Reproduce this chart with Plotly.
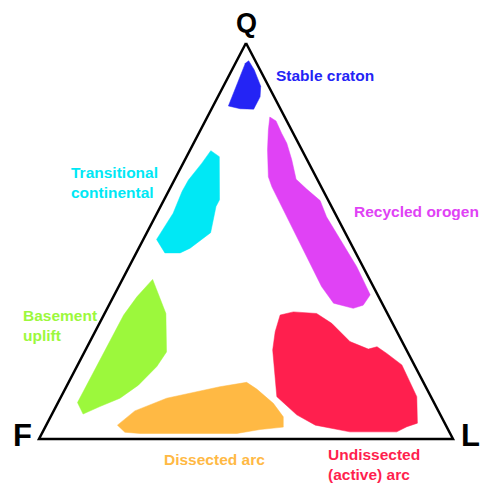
import plotly.graph_objects as go

# QFL ternary fields (Q, F, L in percent)
craton_q = [95.5, 93.2, 89.1, 86.4, 83.3, 83.4, 84.1, 87.3, 91.5, 94.9]
craton_f = [1.6, 1.4, 1.9, 3.4, 6.5, 9.7, 12.2, 9.4, 5.6, 2.7]
craton_l = [2.9, 5.4, 9.0, 10.2, 10.2, 6.9, 3.7, 3.3, 2.9, 2.4]

recycled_q = [81.3, 80.3, 77.2, 74.7, 70.5, 65.6, 63.1, 60.2, 56.1, 50.3, 43.5, 36.4,
              33.8, 33.0, 34.3, 38.5, 42.7, 49.4, 57.8, 63.7, 66.2, 73.0, 78.0]
recycled_f = [3.6, 2.6, 2.8, 2.8, 3.7, 5.1, 3.8, 2.0, 2.5, 2.1, 1.5, 1.8,
              4.8, 7.6, 11.7, 12.5, 12.4, 12.3, 12.1, 11.9, 11.5, 8.3, 5.6]
recycled_l = [15.1, 17.1, 20.0, 22.5, 25.8, 29.3, 33.1, 37.8, 41.4, 47.6, 55.0, 61.8,
              61.4, 59.4, 54.0, 49.0, 44.9, 38.3, 30.1, 24.4, 22.3, 18.7, 16.4]

transitional_q = [72.8, 71.3, 60.4, 58.7, 52.1, 48.2, 47.0, 47.0, 50.4, 57.0, 62.5, 65.4, 69.6]
transitional_f = [22.1, 20.8, 26.2, 27.9, 32.5, 39.4, 42.4, 46.1, 46.4, 39.1, 34.2, 31.2, 25.9]
transitional_l = [5.1, 7.9, 13.4, 13.4, 15.4, 12.4, 10.6, 6.9, 3.2, 3.9, 3.3, 3.4, 4.5]

basement_q = [40.3, 36.8, 31.7, 22.0, 18.3, 13.6, 10.3, 8.2, 6.3, 9.2, 18.3, 25.4, 31.3, 35.9]
basement_f = [52.4, 52.8, 53.5, 58.2, 62.4, 69.2, 75.3, 81.2, 86.2, 86.1, 76.9, 69.7, 63.9, 58.4]
basement_l = [7.3, 10.4, 14.8, 19.8, 19.3, 17.2, 14.4, 10.6, 7.5, 4.7, 4.8, 4.9, 4.8, 5.7]

dissected_q = [3.5, 7.1, 10.3, 11.7, 13.2, 14.3, 12.6, 9.0, 5.6, 3.0, 2.4, 1.4, 1.4, 1.4, 1.7]
dissected_f = [79.3, 73.3, 64.0, 56.9, 49.7, 42.7, 41.1, 38.9, 38.2, 39.5, 45.4, 51.5, 60.4, 74.9, 78.4]
dissected_l = [17.2, 19.6, 25.7, 31.4, 37.1, 43.0, 46.3, 52.1, 56.2, 57.5, 52.2, 47.1, 38.2, 23.7, 19.9]

undissected_q = [31.3, 32.1, 31.7, 29.2, 24.6, 22.7, 23.3, 21.6, 18.7, 10.7, 4.0, 3.1,
                 1.8, 1.8, 3.5, 6.1, 10.7, 14.9, 22.5, 27.1]
undissected_f = [26.1, 22.5, 17.1, 14.7, 12.6, 9.1, 6.7, 5.2, 3.0, 3.4, 6.6, 9.6,
                 12.7, 24.0, 31.5, 34.7, 37.2, 35.5, 32.3, 29.4]
undissected_l = [42.6, 45.4, 51.2, 56.1, 62.8, 68.2, 70.0, 73.2, 78.3, 85.9, 89.4, 87.3,
                 85.5, 74.2, 65.0, 59.2, 52.1, 49.6, 45.2, 43.5]

field_names = ["Stable craton", "Recycled orogen", "Transitional continental",
               "Basement uplift", "Dissected arc", "Undissected (active) arc"]
field_colors = ["#2424f5", "#e042f5", "#00e8f5", "#9cf83c", "#ffb944", "#ff1f4e"]

# Triangle vertices (Q, F, L)
vertex_labels = ["Q", "F", "L"]
vertex_q = [100, 0, 0]
vertex_f = [0, 100, 0]
vertex_l = [0, 0, 100]


def to_xy(q, f, l):
    xs, ys = [], []
    for a, b, c in zip(q, f, l):
        s = a + b + c
        xs.append((c + a / 2.0) / s * 100.0)
        ys.append(a / s * 100.0)
    return xs, ys


fields = [
    (craton_q, craton_f, craton_l),
    (recycled_q, recycled_f, recycled_l),
    (transitional_q, transitional_f, transitional_l),
    (basement_q, basement_f, basement_l),
    (dissected_q, dissected_f, dissected_l),
    (undissected_q, undissected_f, undissected_l),
]

fig = go.Figure()
for (q, f, l), name, col in zip(fields, field_names, field_colors):
    xs, ys = to_xy(q, f, l)
    fig.add_trace(go.Scatter(x=xs + xs[:1], y=ys + ys[:1], mode="lines", fill="toself",
                             fillcolor=col, line=dict(color=col, width=0.5),
                             name=name, hoverinfo="name", showlegend=False))

tx, ty = to_xy(vertex_q + vertex_q[:1], vertex_f + vertex_f[:1], vertex_l + vertex_l[:1])
fig.add_trace(go.Scatter(x=tx, y=ty, mode="lines", line=dict(color="black", width=2.5),
                         hoverinfo="skip", showlegend=False))

# page body has an 8px default margin; the figure fills the rest of the window
OFF = 8
WIN_W, WIN_H = 500, 499
W, H = WIN_W - OFF, WIN_H - OFF


def ann(text, px, py, color, size, anchor="left"):
    fig.add_annotation(text=f"<b>{text}</b>", x=(px - OFF) / W, y=1 - (py - OFF) / H,
                       xref="paper", yref="paper", xanchor=anchor, yanchor="middle",
                       showarrow=False, align=anchor,
                       font=dict(family="Liberation Sans, Arial, sans-serif", size=size, color=color))


# vertex labels
ann(vertex_labels[0], 246.5, 23, "black", 27, "center")
ann(vertex_labels[1], 22, 435, "black", 31, "center")
ann(vertex_labels[2], 470.5, 435, "black", 31, "center")

# field labels
ann("Stable craton", 274, 75, field_colors[0], 15.5)
ann("Recycled orogen", 352, 212, field_colors[1], 15.5)
ann("Transitional<br>continental", 69, 182, field_colors[2], 15.5)
ann("Basement<br>uplift", 21, 325, field_colors[3], 15.5)
ann("Dissected arc", 162, 459, field_colors[4], 15.5)
ann("Undissected<br>(active) arc", 326, 464, field_colors[5], 15.5)

fig.update_layout(
    width=W, height=H, autosize=False,
    margin=dict(l=0, r=0, t=0, b=0),
    paper_bgcolor="white", plot_bgcolor="white",
    xaxis=dict(range=[(OFF - 39) / 4.14, (WIN_W - 39) / 4.14], visible=False, fixedrange=True),
    yaxis=dict(range=[(439 - WIN_H) / 3.96, (439 - OFF) / 3.96], visible=False, fixedrange=True),
)

fig.write_html("out.html")
